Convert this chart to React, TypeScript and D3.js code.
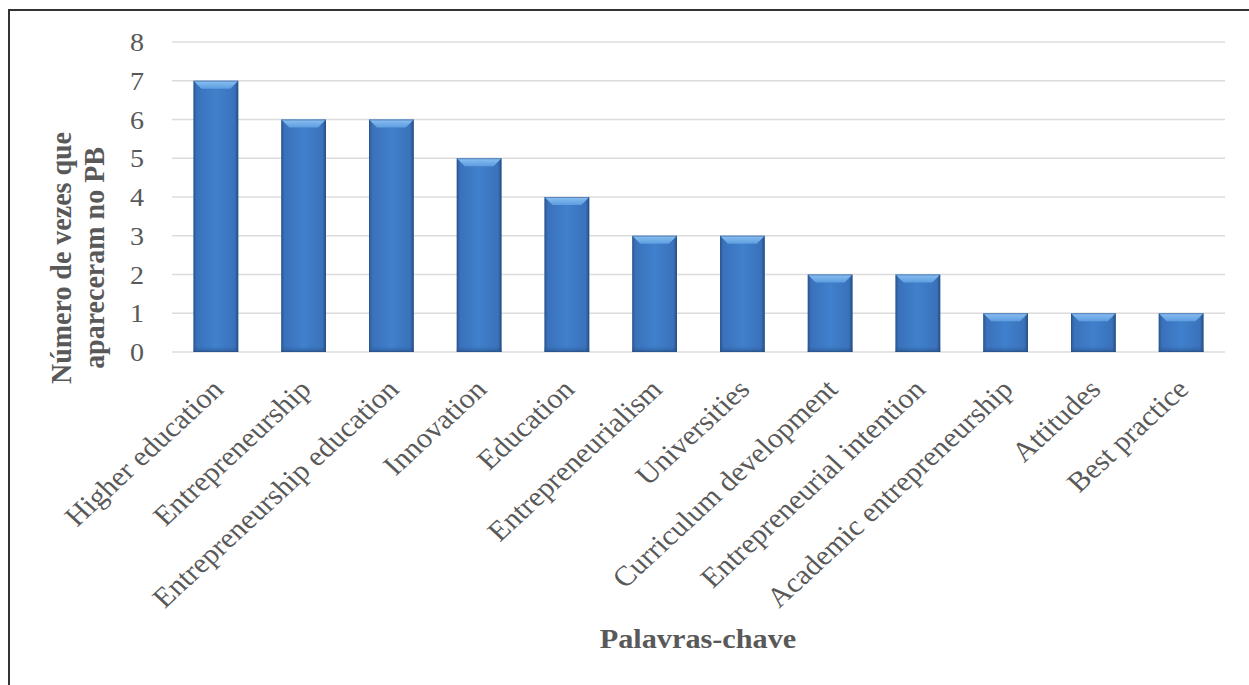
import React from "react";
import * as d3 from "d3";

const categories = [
  "Higher education",
  "Entrepreneurship",
  "Entrepreneurship education",
  "Innovation",
  "Education",
  "Entrepreneurialism",
  "Universities",
  "Curriculum development",
  "Entrepreneurial intention",
  "Academic entrepreneurship",
  "Attitudes",
  "Best practice",
];
const counts = [7, 6, 6, 5, 4, 3, 3, 2, 2, 1, 1, 1];
const yTicks = [0, 1, 2, 3, 4, 5, 6, 7, 8];
const yTitleLines = ["Número de vezes que", "apareceram no PB"];
const xTitle = "Palavras-chave";

const W = 1249;
const H = 685;
const plot = { left: 172, right: 1225, top: 42, bottom: 352 };
const FONT = "'Liberation Serif', 'Times New Roman', serif";
const TXT = "#595959";
const SX = 1.08;

export default function App() {
  const x = d3
    .scaleBand<string>()
    .domain(categories)
    .range([plot.left, plot.right])
    .paddingInner(0.49)
    .paddingOuter(0.245);
  const y = d3.scaleLinear().domain([0, 8]).range([plot.bottom, plot.top]);
  const bw = x.bandwidth();

  return (
    <svg
      width={W}
      height={H}
      style={{ position: "absolute", left: 0, top: 0, background: "#fff" }}
      fontFamily={FONT}
    >
      <defs>
        <linearGradient id="barGrad" x1="0" x2="1" y1="0" y2="0">
          <stop offset="0" stopColor="#2c5a96" />
          <stop offset="0.08" stopColor="#3a72bb" />
          <stop offset="0.5" stopColor="#4080cc" />
          <stop offset="0.92" stopColor="#3a72bb" />
          <stop offset="1" stopColor="#254d82" />
        </linearGradient>
        <linearGradient id="bevelGrad" x1="0" x2="0" y1="0" y2="1">
          <stop offset="0" stopColor="#8cc0f2" />
          <stop offset="1" stopColor="#5c9de0" />
        </linearGradient>
        <linearGradient id="baseGrad" x1="0" x2="0" y1="0" y2="1">
          <stop offset="0" stopColor="#2f61a3" stopOpacity="0" />
          <stop offset="1" stopColor="#1f4478" stopOpacity="0.6" />
        </linearGradient>
      </defs>
      <rect x={0} y={0} width={W} height={H} fill="#fff" />
      {/* frame */}
      <line x1={9} x2={9} y1={9} y2={H} stroke="#333" strokeWidth={2} />
      <line x1={9} x2={W} y1={10} y2={10} stroke="#333" strokeWidth={2} />

      {/* grid */}
      {yTicks.map((t) => (
        <line
          key={"g" + t}
          x1={plot.left}
          x2={plot.right}
          y1={y(t)}
          y2={y(t)}
          stroke="#dcdcdc"
          strokeWidth={1.5}
        />
      ))}

      {/* bars */}
      {categories.map((c, i) => {
        const x0 = x(c)!;
        const y0 = y(counts[i]);
        const h = y(0) - y0;
        const bev = 8;
        return (
          <g key={c}>
            <rect x={x0} y={y0} width={bw} height={h} fill="url(#barGrad)" />
            <rect x={x0} y={y(0) - 6} width={bw} height={6} fill="url(#baseGrad)" />
            <polygon
              points={`${x0},${y0} ${x0 + bw},${y0} ${x0 + bw - bev},${y0 + bev} ${x0 + bev},${y0 + bev}`}
              fill="url(#bevelGrad)"
            />
            <rect
              x={x0 + 0.5}
              y={y0 + 0.5}
              width={bw - 1}
              height={h - 1}
              fill="none"
              stroke="#2a5288"
              strokeOpacity={0.5}
              strokeWidth={1}
            />
          </g>
        );
      })}

      {/* y tick labels */}
      {yTicks.map((t) => (
        <text
          key={"t" + t}
          transform={`translate(137,${y(t) + 9}) scale(${SX},1)`}
          textAnchor="middle"
          fontSize={26}
          fill={TXT}
        >
          {t}
        </text>
      ))}

      {/* category labels */}
      {categories.map((c) => {
        const cx = x(c)! + bw / 2;
        return (
          <text
            key={"l" + c}
            transform={`translate(${cx + 9},391) scale(${SX},1) rotate(-45)`}
            textAnchor="end"
            fontSize={28}
            fill={TXT}
          >
            {c}
          </text>
        );
      })}

      {/* y title */}
      {yTitleLines.map((l, i) => (
        <text
          key={"yt" + i}
          transform={`translate(${71 + i * 33},258) scale(${SX},1) rotate(-90)`}
          textAnchor="middle"
          fontSize={28}
          fontWeight="bold"
          fill={TXT}
        >
          {l}
        </text>
      ))}

      {/* x title */}
      <text
        transform={`translate(698,648) scale(${SX},1)`}
        textAnchor="middle"
        fontSize={28}
        fontWeight="bold"
        fill={TXT}
      >
        {xTitle}
      </text>
    </svg>
  );
}
